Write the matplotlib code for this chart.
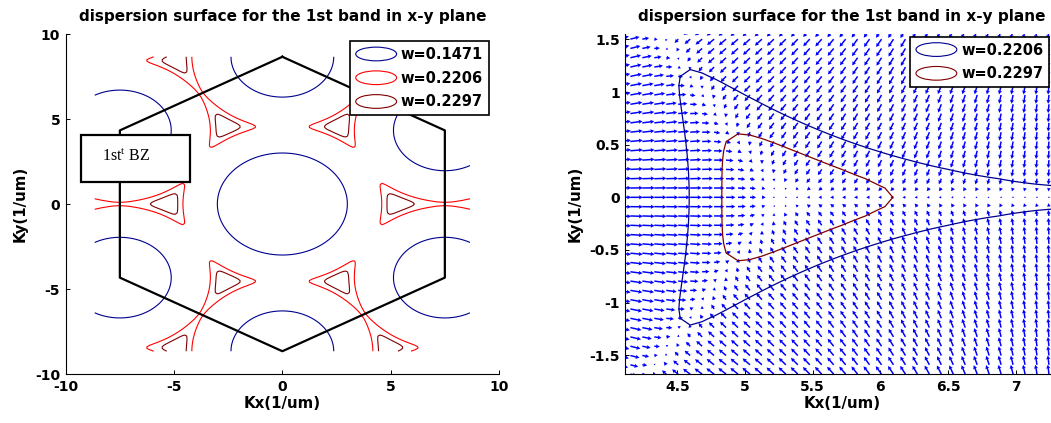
import numpy as np
import matplotlib
matplotlib.use('Agg')
import matplotlib.pyplot as plt
from matplotlib.patches import Ellipse, Rectangle
from matplotlib.legend_handler import HandlerPatch
from matplotlib.ticker import FormatStrFormatter

plt.rcParams['font.family'] = ['DejaVu Sans']
plt.rcParams['axes.unicode_minus'] = False
plt.rcParams['mathtext.fontset'] = 'custom'
plt.rcParams['mathtext.rm'] = 'Liberation Serif'

# ---------------- data ----------------
title = 'dispersion surface for the 1st band in x-y plane'
levels_left = [0.1471, 0.2206, 0.2297]
colors_left = ['#000090', '#ff0000', '#800000']
labels_left = ['w=0.1471', 'w=0.2206', 'w=0.2297']
levels_right = [0.2206, 0.2297]
colors_right = ['#000090', '#800000']
labels_right = ['w=0.2206', 'w=0.2297']

# first Brillouin zone (hexagon corners, 1/um)
bz_kx = [0.0, 7.5, 7.5, 0.0, -7.5, -7.5, 0.0]
bz_ky = [8.66, 4.33, -4.33, -8.66, -4.33, 4.33, 8.66]

# reciprocal lattice and band-model parameters (fitted to the contours)
b1 = (15.0, 0.0)
b2 = (7.5, 12.99)
k_corner = (7.5, 4.33)
gamma_coef = [0.04195, 0.00429, -0.000643]   # w = a r + b r^2 + c r^3 around Gamma
k_coef = [0.0312, 0.0535, -0.001948]         # w = w0 + a r + b r^2 around K
smooth = 0.0067                              # band-mixing width
k_half = 8.66
n_grid = 197

left_ticks = [-10, -5, 0, 5, 10]
right_xticks = [4.5, 5, 5.5, 6, 6.5, 7]
right_yticks = [-1.5, -1, -0.5, 0, 0.5, 1, 1.5]
right_xlim = (4.116, 7.318)
right_ylim = (-1.678, 1.551)

# ---------------- field ----------------
kx = np.linspace(-k_half, k_half, n_grid)
ky = np.linspace(-k_half, k_half, n_grid)
KX, KY = np.meshgrid(kx, ky)

ga, gb, gc = gamma_coef
g_rmax = (-gb - np.sqrt(gb * gb - 3 * ga * gc)) / (3 * gc)
kw0, ka, kb = k_coef
k_rmax = -ka / (2 * kb)


def gamma_well(r):
    r = np.minimum(r, g_rmax)
    return ga * r + gb * r ** 2 + gc * r ** 3


def k_well(r):
    r = np.minimum(r, k_rmax)
    return kw0 + ka * r + kb * r ** 2


vals = []
for n1 in range(-2, 3):
    for n2 in range(-2, 3):
        gx = n1 * b1[0] + n2 * b2[0]
        gy = n1 * b1[1] + n2 * b2[1]
        vals.append(gamma_well(np.hypot(KX - gx, KY - gy)))
        for s in (1, -1):
            cx, cy = gx + k_corner[0], gy + s * k_corner[1]
            vals.append(k_well(np.hypot(KX - cx, KY - cy)))
vals = np.array(vals)
vmin = vals.min(axis=0)
W = vmin - smooth * np.log(np.exp(-(vals - vmin) / smooth).sum(axis=0))
dWdy, dWdx = np.gradient(W, ky, kx)

# ---------------- figure ----------------
fig = plt.figure(figsize=(10.51, 4.23), dpi=100)
ax1 = fig.add_axes([0.0625, 0.1158, 0.4123, 0.8038])
ax2 = fig.add_axes([0.5950, 0.1158, 0.4123, 0.8038])


class HandlerEllipse(HandlerPatch):
    def create_artists(self, legend, orig_handle, xdescent, ydescent,
                       width, height, fontsize, trans):
        center = (0.5 * width - xdescent, 0.5 * height - ydescent)
        p = Ellipse(xy=center, width=width, height=height * 1.05)
        self.update_prop(p, orig_handle, legend)
        p.set_transform(trans)
        return [p]


def style_axes(ax):
    for side in ('top', 'right'):
        ax.spines[side].set_visible(False)
    for side in ('left', 'bottom'):
        ax.spines[side].set_linewidth(0.8)
    ax.tick_params(direction='in', length=3, width=0.7, pad=4,
                   labelsize=10)
    for lab in ax.get_xticklabels() + ax.get_yticklabels():
        lab.set_fontweight('bold')
    ax.xaxis.set_major_formatter(FormatStrFormatter('%g'))
    ax.yaxis.set_major_formatter(FormatStrFormatter('%g'))
    ax.set_title(title, fontsize=11, fontweight='bold', pad=9.5)
    ax.set_xlabel('Kx(1/um)', fontsize=10.8, fontweight='bold', labelpad=1.5)
    ax.set_ylabel('Ky(1/um)', fontsize=10.8, fontweight='bold', labelpad=5)


def add_legend(ax, colors, labels, anchor):
    handles = [Ellipse((0, 0), 1, 1, facecolor='none', edgecolor=c,
                       linewidth=0.8) for c in colors]
    leg = ax.legend(handles, labels, handler_map={Ellipse: HandlerEllipse()},
                    loc='upper right', bbox_to_anchor=anchor, borderaxespad=0,
                    fancybox=False, edgecolor='black', framealpha=1,
                    prop={'weight': 'bold', 'size': 10.5}, handlelength=2.8,
                    handleheight=1.0, labelspacing=0.6, handletextpad=0.3,
                    borderpad=0.4)
    leg.get_frame().set_linewidth(1.2)
    leg.set_zorder(10)


# left panel
ax1.contour(KX, KY, W, levels=levels_left, colors=colors_left, linewidths=0.8)
ax1.plot(bz_kx, bz_ky, color='black', linewidth=1.6, zorder=3)
ax1.add_patch(Rectangle((-9.31, 1.31), 5.05, 2.75, facecolor='white',
                        edgecolor='black', linewidth=1.6, zorder=4))
ax1.text(-8.31, 2.55, '1st$^{\\mathrm{t}}$ BZ', fontfamily='Liberation Serif',
         fontsize=11.5, va='baseline', ha='left', zorder=5)
ax1.set_xlim(-10, 10)
ax1.set_ylim(-10, 10)
ax1.set_xticks(left_ticks)
ax1.set_yticks(left_ticks)
style_axes(ax1)
add_legend(ax1, colors_left, labels_left, (0.977, 0.979))

# right panel (zoom around the M point with gradient field)
sx = (kx > right_xlim[0] - 0.1) & (kx < right_xlim[1] + 0.1)
sy = (ky > right_ylim[0] - 0.1) & (ky < right_ylim[1] + 0.1)
XS, YS = np.meshgrid(kx[sx], ky[sy])
US = dWdx[np.ix_(sy, sx)]
VS = dWdy[np.ix_(sy, sx)]
ax2.quiver(XS, YS, US, VS, color='#0000ff', angles='xy', scale_units='xy',
           scale=0.48, units='dots', width=1.5, headwidth=2.8,
           headlength=2.6, headaxislength=2.3, zorder=2)
ax2.contour(KX, KY, W, levels=levels_right, colors=colors_right,
            linewidths=0.9, zorder=3)
ax2.set_xlim(*right_xlim)
ax2.set_ylim(*right_ylim)
ax2.set_xticks(right_xticks)
ax2.set_yticks(right_yticks)
style_axes(ax2)
add_legend(ax2, colors_right, labels_right, (0.978, 0.992))

fig.savefig('out.png', dpi=100)
